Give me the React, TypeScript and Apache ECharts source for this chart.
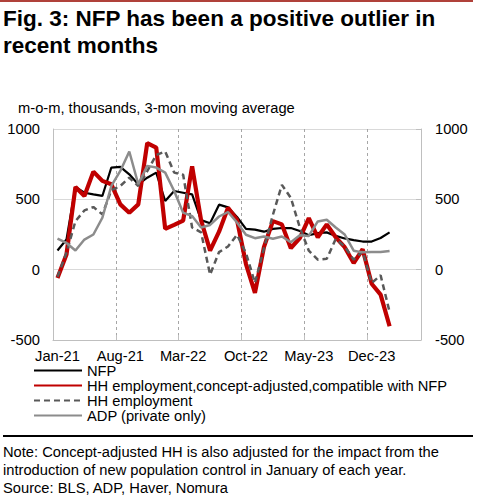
import { useRef, useEffect } from 'react'
import * as echarts from 'echarts'

const FONT = '"Liberation Sans", Arial, sans-serif'

const months = [
  'Jan-21', 'Feb-21', 'Mar-21', 'Apr-21', 'May-21', 'Jun-21', 'Jul-21', 'Aug-21', 'Sep-21', 'Oct-21', 'Nov-21', 'Dec-21',
  'Jan-22', 'Feb-22', 'Mar-22', 'Apr-22', 'May-22', 'Jun-22', 'Jul-22', 'Aug-22', 'Sep-22', 'Oct-22', 'Nov-22', 'Dec-22',
  'Jan-23', 'Feb-23', 'Mar-23', 'Apr-23', 'May-23', 'Jun-23', 'Jul-23', 'Aug-23', 'Sep-23', 'Oct-23', 'Nov-23', 'Dec-23',
  'Jan-24', 'Feb-24', 'Mar-24', 'Apr-24', 'May-24',
]

// 3-month moving averages, thousands, Jan-21 .. Feb-24
const nfp = [
  136, 214, 588, 547, 535, 524, 726, 731, 678, 607, 654, 690,
  488, 559, 547, 535, 352, 330, 462, 443, 375, 290, 285, 270,
  290, 296, 296, 275, 245, 260, 265, 240, 222, 210, 200, 200,
  225, 265,
]
const hhAdjusted = [
  -60, 107, 588, 524, 697, 631, 607, 464, 405, 464, 900, 868,
  290, 318, 348, 735, 350, 135, 270, 440, 354, 40, -165, 160,
  345, 322, 153, 225, 366, 230, 322, 230, 160, 47, 145, -100,
  -177, -402,
]
const hhEmployment = [
  -50, 120, 345, 421, 445, 393, 565, 595, 654, 595, 700, 815,
  840, 690, 675, 300, 265, -35, 125, 165, 248, 118, -94, 150,
  390, 603, 510, 300, 135, 71, 77, 218, 165, 71, 130, -95,
  -40, -300,
]
const adp = [
  221, 190, 136, 214, 250, 369, 595, 702, 840, 607, 738, 726,
  690, 559, 405, 381, 300, 318, 378, 410, 335, 248, 224, 236,
  220, 236, 195, 245, 240, 343, 355, 300, 250, 135, 123, 125,
  125, 133,
]

const titleLines = ['Fig. 3: NFP has been a positive outlier in', 'recent months']
const subtitle = 'm-o-m, thousands, 3-mon moving average'
const noteLines = [
  'Note: Concept-adjusted HH is also adjusted for the impact from the',
  'introduction of new population control in January of each year.',
  'Source: BLS, ADP, Haver, Nomura',
]

function buildOption(): echarts.EChartsOption {
  const valueAxis = {
    type: 'value' as const,
    min: -500,
    max: 1000,
    interval: 500,
    axisLabel: { fontSize: 14.7, color: '#000', fontFamily: FONT, margin: 13, formatter: (v: number) => String(v) },
    axisLine: { show: true, lineStyle: { color: '#bfbfbf' } },
  }
  return {
    animation: false,
    backgroundColor: '#fff',
    textStyle: { fontFamily: FONT },
    grid: { left: 53, right: 57, top: 129, bottom: 160, containLabel: false },
    legend: {
      orient: 'vertical',
      left: 33,
      top: 363,
      padding: 0,
      itemWidth: 48,
      itemHeight: 12,
      itemGap: 0,
      itemStyle: { color: 'transparent', borderColor: 'transparent', borderWidth: 0 },
      textStyle: { fontSize: 14.7, lineHeight: 14, color: '#000', fontFamily: FONT },
      data: ['NFP', 'HH employment,concept-adjusted,compatible with NFP', 'HH employment', 'ADP (private only)'],
    },
    xAxis: {
      type: 'category',
      data: months,
      boundaryGap: true,
      axisLine: { onZero: false, lineStyle: { color: '#bfbfbf' } },
      axisTick: { show: true, interval: 6, inside: true, length: 5, lineStyle: { color: '#bfbfbf' } },
      axisLabel: { interval: 6, fontSize: 14.7, color: '#000', fontFamily: FONT, margin: 8 },
      splitLine: { show: true, interval: 6, lineStyle: { type: [3, 3], color: '#a6a6a6', width: 1 } },
    },
    yAxis: [
      {
        ...valueAxis,
        position: 'left',
        axisTick: { show: false },
        splitLine: { show: true, lineStyle: { color: '#d9d9d9' } },
      },
      {
        ...valueAxis,
        position: 'right',
        axisLabel: { ...valueAxis.axisLabel, margin: 14 },
        axisTick: { show: true, inside: true, length: 5, lineStyle: { color: '#bfbfbf' } },
        splitLine: { show: false },
      },
    ],
    series: [
      {
        name: 'NFP',
        type: 'line',
        data: nfp,
        symbol: 'none',
        lineStyle: { color: '#000', width: 2.2 },
        itemStyle: { color: '#000' },
      },
      {
        name: 'HH employment,concept-adjusted,compatible with NFP',
        type: 'line',
        data: hhAdjusted,
        symbol: 'none',
        lineStyle: { color: '#c00000', width: 4.2 },
        itemStyle: { color: '#c00000' },
      },
      {
        name: 'HH employment',
        type: 'line',
        data: hhEmployment,
        symbol: 'none',
        lineStyle: { color: '#595959', width: 2.5, type: [6, 4] },
        itemStyle: { color: '#595959' },
      },
      {
        name: 'ADP (private only)',
        type: 'line',
        data: adp,
        symbol: 'none',
        lineStyle: { color: '#8c8c8c', width: 2.5 },
        itemStyle: { color: '#8c8c8c' },
      },
    ],
    graphic: [
      { type: 'rect', shape: { x: 0, y: 0, width: 473, height: 2 }, style: { fill: '#b0413a' } },
      ...titleLines.map((t, i) => ({
        type: 'text' as const,
        x: 3,
        y: 18 + i * 27,
        style: { text: t, font: `bold 22.5px ${FONT}`, fill: '#000', verticalAlign: 'middle' as const },
      })),
      {
        type: 'text',
        x: 18,
        y: 108,
        style: { text: subtitle, font: `14.7px ${FONT}`, fill: '#000', verticalAlign: 'middle' },
      },
      { type: 'rect', shape: { x: 3, y: 435, width: 470, height: 2 }, style: { fill: '#000' } },
      ...noteLines.map((t, i) => ({
        type: 'text' as const,
        x: 3,
        y: 452 + i * 18,
        style: { text: t, font: `14.7px ${FONT}`, fill: '#000', verticalAlign: 'middle' as const },
      })),
    ],
  }
}

export default function App() {
  const containerRef = useRef<HTMLDivElement>(null)

  useEffect(() => {
    const el = containerRef.current
    if (!el) return
    const chart = echarts.init(el, null, { renderer: 'svg' })
    chart.setOption(buildOption())
    return () => chart.dispose()
  }, [])

  return (
    <div
      ref={containerRef}
      style={{ position: 'absolute', left: 0, top: 0, width: 478, height: 500, background: '#fff' }}
    />
  )
}
